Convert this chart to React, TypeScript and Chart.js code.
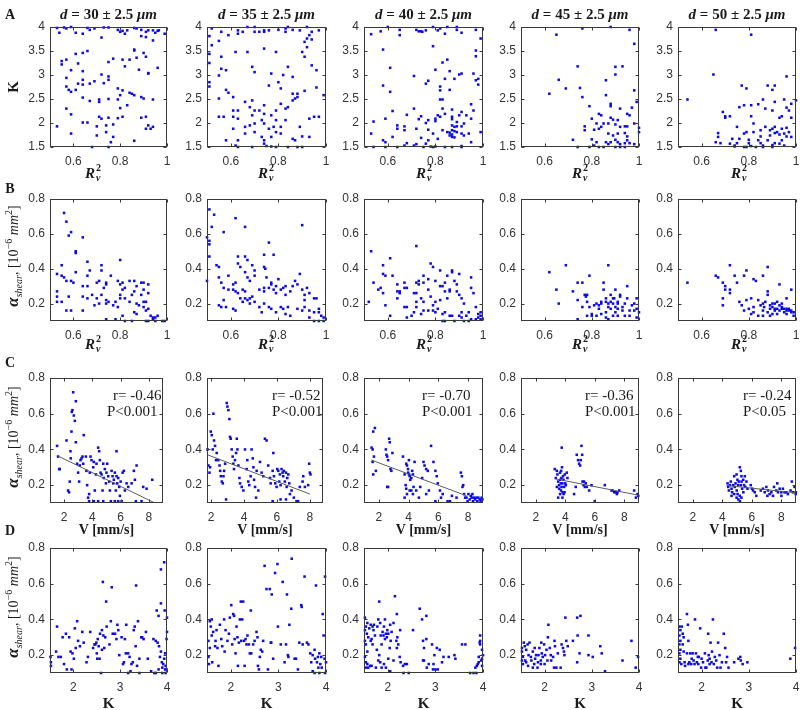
import React, { useEffect, useRef } from "react";
import { Chart, registerables } from "chart.js";
Chart.register(...registerables);

// ---------- data ----------
const a1 = [[0.53,3.98],[0.54,3.88],[0.56,3.99],[0.57,3.97],[0.59,4.0],[0.61,3.88],[0.64,3.86],[0.66,3.98],[0.67,3.94],[0.69,3.97],[0.73,3.99],[0.75,3.99],[0.79,3.94],[0.80,3.90],[0.81,3.92],[0.82,3.86],[0.83,3.93],[0.86,3.98],[0.87,3.97],[0.89,3.94],[0.91,3.90],[0.92,3.93],[0.94,3.93],[0.95,3.88],[0.96,3.92],[0.965,3.93],[0.99,3.86],[0.94,3.72],[0.91,3.79],[0.89,3.81],[0.72,3.78],[0.55,3.29],[0.55,3.22],[0.57,3.32],[0.61,3.44],[0.64,3.46],[0.66,3.50],[0.62,3.24],[0.75,3.27],[0.77,3.34],[0.81,3.32],[0.82,3.18],[0.84,3.32],[0.86,3.53],[0.86,3.51],[0.87,3.36],[0.88,3.11],[0.90,3.46],[0.91,3.38],[0.92,3.04],[0.92,3.03],[0.96,3.15],[0.64,3.08],[0.64,2.90],[0.59,3.10],[0.57,2.94],[0.57,2.76],[0.58,2.69],[0.59,2.65],[0.61,2.69],[0.62,2.82],[0.64,2.80],[0.67,2.82],[0.69,2.87],[0.73,2.83],[0.72,3.01],[0.75,2.97],[0.75,2.90],[0.79,2.72],[0.81,2.68],[0.80,2.58],[0.84,2.63],[0.85,2.61],[0.86,2.58],[0.79,2.49],[0.75,2.50],[0.71,2.49],[0.71,2.44],[0.64,2.53],[0.67,2.46],[0.80,2.31],[0.83,2.37],[0.89,2.54],[0.90,2.51],[0.94,2.49],[0.57,2.30],[0.59,2.18],[0.64,2.01],[0.66,2.01],[0.71,2.13],[0.72,2.09],[0.75,2.11],[0.79,2.10],[0.81,2.13],[0.89,2.11],[0.91,2.13],[0.92,1.95],[0.94,1.92],[0.93,1.88],[0.91,1.88],[0.77,1.97],[0.74,1.95],[0.70,1.93],[0.70,1.74],[0.74,1.81],[0.77,1.71],[0.76,1.60],[0.86,1.63],[0.53,1.93],[0.59,1.78],[0.68,1.50],[0.75,1.50]];
const a2 = [[0.51,3.81],[0.52,3.62],[0.51,3.44],[0.51,3.25],[0.55,3.71],[0.56,3.38],[0.56,3.13],[0.58,3.10],[0.55,2.99],[0.51,2.85],[0.51,2.76],[0.55,2.51],[0.59,2.63],[0.58,2.69],[0.52,3.97],[0.56,3.90],[0.59,3.83],[0.63,3.86],[0.63,3.93],[0.65,3.90],[0.67,4.0],[0.70,4.0],[0.70,3.90],[0.72,3.90],[0.74,3.93],[0.74,3.90],[0.76,3.93],[0.80,3.94],[0.83,3.97],[0.83,3.90],[0.84,4.0],[0.86,3.94],[0.89,3.93],[0.92,4.0],[0.93,3.83],[0.92,3.76],[0.91,3.69],[0.94,3.90],[0.97,3.93],[0.94,3.74],[0.62,3.48],[0.67,3.48],[0.69,3.17],[0.70,3.06],[0.74,3.55],[0.79,3.48],[0.84,3.17],[0.86,2.96],[0.90,3.48],[0.91,3.38],[0.94,3.20],[0.96,3.10],[0.92,3.58],[0.76,2.78],[0.80,2.85],[0.81,2.72],[0.77,3.03],[0.82,3.0],[0.86,2.61],[0.88,2.61],[0.91,2.67],[0.88,2.54],[0.96,2.74],[0.99,2.58],[0.61,2.54],[0.63,2.26],[0.66,2.44],[0.69,2.47],[0.68,2.33],[0.70,2.26],[0.72,2.26],[0.74,2.19],[0.74,2.37],[0.77,2.16],[0.79,2.26],[0.81,2.40],[0.83,2.30],[0.84,2.33],[0.86,2.47],[0.87,2.51],[0.55,2.13],[0.57,2.13],[0.61,2.26],[0.61,2.13],[0.63,2.09],[0.66,1.92],[0.68,1.95],[0.69,2.16],[0.70,1.99],[0.73,2.06],[0.74,1.99],[0.76,1.88],[0.78,1.92],[0.79,2.06],[0.81,1.92],[0.83,2.06],[0.89,1.92],[0.93,2.09],[0.95,2.13],[0.97,2.13],[0.61,1.88],[0.66,1.78],[0.70,1.81],[0.73,1.71],[0.74,1.64],[0.77,1.71],[0.79,1.81],[0.81,1.78],[0.86,1.67],[0.87,1.64],[0.90,1.72],[0.93,1.71],[0.63,1.64],[0.58,1.64],[0.62,1.53],[0.63,1.50],[0.69,1.50],[0.74,1.57],[0.75,1.52],[0.77,1.51],[0.79,1.50],[0.84,1.50],[0.88,1.50],[0.90,1.50]];
const a3 = [[0.53,3.85],[0.57,3.91],[0.60,4.0],[0.65,3.94],[0.65,3.83],[0.72,3.94],[0.73,3.91],[0.74,3.91],[0.745,3.90],[0.76,3.93],[0.79,4.0],[0.81,3.93],[0.82,3.97],[0.84,3.86],[0.85,4.0],[0.89,4.0],[0.89,3.94],[0.91,3.88],[0.97,3.94],[0.99,3.76],[0.58,3.53],[0.79,3.60],[0.97,3.51],[0.97,3.39],[0.83,3.26],[0.85,3.32],[0.61,3.15],[0.80,3.11],[0.86,3.08],[0.90,3.01],[0.91,3.03],[0.96,3.03],[0.71,2.98],[0.76,2.82],[0.77,2.88],[0.58,2.78],[0.84,2.92],[0.88,2.92],[0.97,2.89],[0.98,2.92],[0.98,2.80],[0.82,2.76],[0.82,2.68],[0.86,2.69],[0.61,2.65],[0.82,2.49],[0.83,2.49],[0.62,2.25],[0.71,2.30],[0.83,2.30],[0.87,2.28],[0.91,2.23],[0.95,2.39],[0.96,2.26],[0.68,2.17],[0.74,2.14],[0.77,2.06],[0.81,2.16],[0.82,2.13],[0.80,2.09],[0.84,2.19],[0.87,2.13],[0.90,2.16],[0.93,2.16],[0.95,2.09],[0.54,2.03],[0.59,2.09],[0.64,1.95],[0.67,1.93],[0.73,2.08],[0.76,2.0],[0.80,2.04],[0.87,2.08],[0.89,2.02],[0.92,1.99],[0.53,1.78],[0.64,1.88],[0.67,1.85],[0.72,1.88],[0.77,1.86],[0.79,1.78],[0.83,1.85],[0.85,1.81],[0.86,1.74],[0.87,1.85],[0.88,1.92],[0.89,1.93],[0.89,1.81],[0.91,1.93],[0.91,1.78],[0.92,1.74],[0.94,1.78],[0.99,1.81],[0.62,1.71],[0.74,1.69],[0.77,1.64],[0.58,1.64],[0.59,1.60],[0.95,1.60],[0.81,1.67],[0.87,1.71],[0.68,1.58],[0.72,1.56],[0.76,1.57],[0.54,1.50],[0.59,1.50],[0.64,1.50],[0.67,1.53],[0.71,1.53],[0.75,1.50],[0.79,1.50],[0.80,1.51],[0.84,1.50],[0.87,1.50],[0.91,1.50],[0.91,1.52],[0.78,1.51],[0.86,1.80],[0.87,1.76],[0.88,1.83],[0.88,1.70],[0.87,1.95]];
const a4 = [[0.65,3.84],[0.76,3.97],[0.88,4.0],[0.96,3.94],[0.98,3.65],[0.74,3.18],[0.66,2.90],[0.62,2.61],[0.69,2.72],[0.75,2.73],[0.76,2.54],[0.79,2.35],[0.86,2.89],[0.90,3.17],[0.90,3.01],[0.93,3.18],[0.86,2.58],[0.98,2.68],[0.97,2.32],[0.99,2.44],[0.88,2.40],[0.88,2.35],[0.92,2.30],[0.95,2.19],[0.96,2.16],[0.80,2.09],[0.82,1.99],[0.83,2.19],[0.84,2.16],[0.85,1.99],[0.87,1.99],[0.88,2.11],[0.89,2.07],[0.90,1.97],[0.91,2.06],[0.92,1.92],[0.94,1.93],[0.95,1.93],[0.98,1.99],[1.0,1.90],[0.77,1.93],[0.77,1.85],[0.81,1.86],[0.83,1.88],[0.84,1.92],[0.87,1.78],[0.89,1.74],[0.91,1.78],[0.94,1.79],[0.95,1.72],[1.0,1.81],[0.72,1.65],[0.80,1.66],[0.81,1.53],[0.82,1.60],[0.86,1.60],[0.87,1.56],[0.88,1.60],[0.90,1.65],[0.91,1.60],[0.92,1.56],[0.94,1.58],[0.95,1.64],[0.96,1.58],[0.98,1.56],[0.79,1.50],[0.74,1.50],[0.83,1.50],[0.85,1.50],[0.90,1.50],[0.92,1.50],[0.94,1.50]];
const a5 = [[0.54,2.49],[0.66,3.94],[0.81,3.84],[0.65,3.01],[0.69,2.23],[0.70,2.14],[0.70,2.11],[0.72,2.14],[0.67,1.79],[0.67,1.71],[0.66,1.60],[0.68,1.58],[0.73,1.67],[0.72,1.57],[0.74,1.53],[0.75,1.92],[0.77,2.78],[0.79,2.72],[0.76,2.33],[0.78,2.37],[0.81,2.14],[0.81,2.37],[0.82,1.99],[0.84,2.39],[0.86,2.49],[0.88,2.78],[0.90,2.69],[0.90,2.26],[0.91,2.78],[0.93,2.11],[0.94,2.14],[0.95,2.49],[0.96,2.32],[0.97,2.26],[0.98,2.11],[0.98,2.40],[0.96,2.97],[1.0,2.47],[0.91,2.44],[0.87,2.30],[0.87,1.92],[0.89,1.85],[0.89,1.74],[0.90,1.88],[0.91,1.79],[0.91,1.92],[0.92,1.81],[0.93,1.76],[0.94,1.88],[0.95,1.78],[0.96,1.90],[0.96,1.72],[0.97,1.81],[0.98,1.71],[0.85,1.85],[0.85,1.72],[0.84,1.64],[0.82,1.81],[0.79,1.81],[0.80,1.65],[0.80,1.58],[0.78,1.50],[0.79,1.50],[0.83,1.50],[0.86,1.50],[0.88,1.64],[0.90,1.50],[0.91,1.58],[0.93,1.57],[0.94,1.64],[0.95,1.53],[0.81,1.52],[0.85,1.58],[0.86,1.53],[0.90,1.54],[0.78,1.78],[0.76,1.67],[0.75,1.58],[0.74,1.51]];

const b1 = [[0.56,0.72],[0.57,0.67],[0.58,0.59],[0.59,0.61],[0.64,0.58],[0.61,0.50],[0.61,0.49],[0.66,0.44],[0.72,0.42],[0.72,0.39],[0.67,0.39],[0.80,0.45],[0.55,0.42],[0.53,0.37],[0.55,0.36],[0.56,0.35],[0.57,0.33],[0.59,0.33],[0.60,0.32],[0.61,0.38],[0.64,0.30],[0.66,0.36],[0.66,0.30],[0.70,0.32],[0.71,0.33],[0.73,0.29],[0.74,0.31],[0.74,0.32],[0.76,0.36],[0.79,0.33],[0.80,0.31],[0.81,0.32],[0.84,0.33],[0.86,0.33],[0.87,0.30],[0.89,0.32],[0.90,0.32],[0.92,0.31],[0.53,0.27],[0.53,0.24],[0.53,0.21],[0.55,0.21],[0.58,0.24],[0.59,0.16],[0.57,0.16],[0.64,0.24],[0.64,0.16],[0.66,0.23],[0.68,0.25],[0.70,0.23],[0.69,0.19],[0.71,0.20],[0.72,0.25],[0.74,0.22],[0.74,0.20],[0.75,0.21],[0.77,0.19],[0.78,0.21],[0.79,0.18],[0.80,0.25],[0.80,0.23],[0.81,0.28],[0.82,0.29],[0.82,0.23],[0.84,0.21],[0.85,0.25],[0.86,0.27],[0.87,0.20],[0.87,0.14],[0.88,0.19],[0.89,0.25],[0.90,0.21],[0.90,0.28],[0.90,0.18],[0.91,0.16],[0.91,0.21],[0.92,0.26],[0.92,0.17],[0.93,0.13],[0.94,0.11],[0.94,0.12],[0.95,0.12],[0.96,0.13],[0.74,0.11],[0.78,0.11],[0.82,0.10],[0.85,0.10],[0.91,0.10],[0.92,0.10],[0.95,0.10],[0.98,0.10],[0.99,0.10],[0.86,0.15],[0.81,0.13]];
const b2 = [[0.51,0.74],[0.53,0.71],[0.52,0.64],[0.50,0.58],[0.51,0.56],[0.51,0.54],[0.51,0.47],[0.50,0.33],[0.57,0.61],[0.62,0.69],[0.66,0.64],[0.76,0.55],[0.74,0.48],[0.78,0.48],[0.90,0.65],[0.54,0.42],[0.55,0.41],[0.55,0.35],[0.56,0.32],[0.57,0.29],[0.59,0.36],[0.61,0.31],[0.62,0.32],[0.63,0.47],[0.63,0.43],[0.64,0.41],[0.66,0.47],[0.66,0.38],[0.67,0.35],[0.68,0.33],[0.70,0.36],[0.70,0.39],[0.74,0.41],[0.745,0.40],[0.75,0.35],[0.67,0.45],[0.69,0.42],[0.72,0.28],[0.74,0.29],[0.74,0.27],[0.76,0.29],[0.77,0.31],[0.77,0.32],[0.78,0.28],[0.79,0.30],[0.79,0.26],[0.80,0.34],[0.81,0.28],[0.82,0.29],[0.83,0.25],[0.83,0.30],[0.85,0.27],[0.86,0.30],[0.87,0.33],[0.88,0.31],[0.89,0.37],[0.90,0.28],[0.91,0.25],[0.91,0.22],[0.92,0.29],[0.93,0.26],[0.95,0.23],[0.96,0.23],[0.61,0.28],[0.62,0.27],[0.63,0.26],[0.65,0.28],[0.66,0.27],[0.68,0.23],[0.69,0.24],[0.57,0.22],[0.58,0.18],[0.59,0.28],[0.61,0.17],[0.62,0.16],[0.64,0.23],[0.65,0.21],[0.66,0.23],[0.67,0.22],[0.68,0.20],[0.70,0.21],[0.72,0.18],[0.73,0.15],[0.74,0.20],[0.76,0.18],[0.77,0.17],[0.79,0.15],[0.81,0.18],[0.82,0.17],[0.83,0.14],[0.84,0.18],[0.85,0.13],[0.88,0.17],[0.90,0.16],[0.91,0.18],[0.93,0.16],[0.95,0.15],[0.97,0.17],[0.97,0.15],[0.98,0.13],[0.93,0.12],[0.95,0.10],[0.97,0.10],[0.99,0.10],[0.99,0.12],[0.56,0.18],[0.55,0.19]];
const b3 = [[0.53,0.50],[0.61,0.46],[0.52,0.21],[0.54,0.32],[0.58,0.42],[0.58,0.37],[0.59,0.36],[0.62,0.36],[0.57,0.29],[0.58,0.26],[0.56,0.28],[0.59,0.19],[0.61,0.13],[0.64,0.27],[0.64,0.31],[0.65,0.27],[0.67,0.32],[0.67,0.29],[0.68,0.29],[0.64,0.23],[0.65,0.26],[0.67,0.18],[0.68,0.18],[0.68,0.12],[0.72,0.53],[0.72,0.32],[0.73,0.31],[0.71,0.26],[0.72,0.26],[0.73,0.33],[0.75,0.32],[0.75,0.36],[0.77,0.34],[0.78,0.43],[0.79,0.41],[0.80,0.33],[0.77,0.28],[0.78,0.24],[0.74,0.23],[0.75,0.21],[0.72,0.21],[0.72,0.18],[0.71,0.15],[0.70,0.13],[0.74,0.14],[0.75,0.16],[0.77,0.16],[0.79,0.19],[0.79,0.16],[0.80,0.15],[0.80,0.21],[0.82,0.39],[0.82,0.30],[0.83,0.30],[0.84,0.27],[0.84,0.32],[0.85,0.36],[0.85,0.23],[0.86,0.28],[0.86,0.27],[0.87,0.38],[0.87,0.39],[0.88,0.33],[0.89,0.31],[0.89,0.27],[0.90,0.37],[0.90,0.25],[0.91,0.23],[0.92,0.20],[0.81,0.17],[0.82,0.22],[0.83,0.14],[0.84,0.15],[0.86,0.13],[0.87,0.13],[0.90,0.13],[0.91,0.12],[0.91,0.15],[0.93,0.13],[0.94,0.15],[0.95,0.35],[0.95,0.29],[0.96,0.26],[0.97,0.18],[0.98,0.14],[0.99,0.15],[0.98,0.12],[0.99,0.11],[0.97,0.11],[0.95,0.11],[0.84,0.10],[0.88,0.10],[0.92,0.10],[0.94,0.10],[0.83,0.10],[0.99,0.13]];
const b4 = [[0.62,0.38],[0.69,0.42],[0.65,0.28],[0.66,0.20],[0.72,0.27],[0.74,0.32],[0.76,0.32],[0.79,0.36],[0.87,0.42],[0.74,0.22],[0.74,0.11],[0.76,0.18],[0.77,0.25],[0.775,0.24],[0.78,0.21],[0.78,0.25],[0.79,0.18],[0.80,0.14],[0.80,0.13],[0.81,0.19],[0.82,0.20],[0.83,0.17],[0.83,0.19],[0.84,0.21],[0.84,0.20],[0.85,0.28],[0.85,0.32],[0.86,0.21],[0.86,0.15],[0.86,0.23],[0.87,0.18],[0.87,0.20],[0.88,0.17],[0.88,0.21],[0.88,0.25],[0.89,0.23],[0.89,0.20],[0.895,0.23],[0.90,0.15],[0.90,0.18],[0.90,0.28],[0.91,0.21],[0.91,0.17],[0.91,0.20],[0.92,0.24],[0.92,0.25],[0.93,0.18],[0.93,0.16],[0.94,0.20],[0.94,0.13],[0.95,0.30],[0.95,0.23],[0.96,0.16],[0.96,0.13],[0.97,0.19],[0.98,0.16],[0.98,0.20],[0.99,0.23],[0.99,0.17],[0.99,0.12],[1.0,0.15],[0.78,0.13],[0.82,0.13],[0.84,0.14],[0.86,0.12],[0.87,0.11],[0.89,0.13],[0.91,0.13]];
const b5 = [[0.54,0.32],[0.66,0.36],[0.67,0.35],[0.72,0.42],[0.69,0.32],[0.70,0.30],[0.69,0.23],[0.70,0.28],[0.72,0.28],[0.72,0.26],[0.69,0.19],[0.74,0.36],[0.75,0.32],[0.78,0.36],[0.79,0.39],[0.82,0.34],[0.83,0.33],[0.86,0.36],[0.88,0.41],[0.88,0.27],[0.88,0.25],[0.93,0.31],[0.98,0.28],[0.76,0.21],[0.77,0.19],[0.78,0.16],[0.79,0.22],[0.80,0.17],[0.81,0.14],[0.81,0.23],[0.82,0.18],[0.82,0.15],[0.84,0.22],[0.84,0.13],[0.85,0.19],[0.86,0.20],[0.86,0.16],[0.865,0.18],[0.87,0.21],[0.88,0.15],[0.89,0.19],[0.89,0.17],[0.90,0.20],[0.90,0.14],[0.90,0.18],[0.91,0.16],[0.91,0.20],[0.91,0.17],[0.92,0.14],[0.92,0.21],[0.92,0.17],[0.93,0.19],[0.93,0.16],[0.94,0.18],[0.94,0.20],[0.94,0.17],[0.95,0.15],[0.95,0.17],[0.96,0.23],[0.96,0.16],[0.96,0.17],[0.97,0.16],[0.97,0.17],[0.98,0.15],[0.98,0.16],[0.99,0.15],[0.99,0.13],[0.96,0.14],[0.89,0.13],[0.86,0.13]];

const c1 = [[1.50,0.42],[1.57,0.36],[1.65,0.29],[1.69,0.29],[2.17,0.45],[2.28,0.17],[2.35,0.16],[2.40,0.22],[2.45,0.39],[2.47,0.35],[2.52,0.50],[2.54,0.61],[2.59,0.62],[2.64,0.72],[2.69,0.59],[2.76,0.56],[2.83,0.67],[2.83,0.44],[2.92,0.32],[2.99,0.27],[3.06,0.22],[3.11,0.31],[3.16,0.34],[3.23,0.35],[3.30,0.36],[3.35,0.32],[3.39,0.48],[3.54,0.36],[3.58,0.28],[3.63,0.20],[3.70,0.13],[3.77,0.11],[3.82,0.27],[3.87,0.36],[3.94,0.34],[4.06,0.30],[4.10,0.33],[4.25,0.26],[4.29,0.32],[4.41,0.41],[4.48,0.39],[4.53,0.34],[4.58,0.27],[4.65,0.26],[4.72,0.17],[4.77,0.32],[4.81,0.24],[4.88,0.29],[4.96,0.21],[5.00,0.27],[5.05,0.32],[5.12,0.25],[5.19,0.22],[5.24,0.17],[5.31,0.11],[5.36,0.28],[5.43,0.25],[5.48,0.21],[5.52,0.23],[5.59,0.27],[5.66,0.17],[5.71,0.25],[5.76,0.21],[5.83,0.24],[5.90,0.19],[5.95,0.14],[6.00,0.22],[6.07,0.11],[6.14,0.27],[5.71,0.39],[6.23,0.28],[6.30,0.17],[6.42,0.21],[6.54,0.19],[6.78,0.21],[6.94,0.28],[7.01,0.23],[7.08,0.11],[7.13,0.31],[7.60,0.19],[7.84,0.18],[8.24,0.23],[7.48,0.11],[3.77,0.15],[4.10,0.11],[4.17,0.17],[4.41,0.11],[4.77,0.11],[5.59,0.11],[5.83,0.11]];
const c2 = [[1.78,0.40],[1.84,0.31],[1.90,0.27],[1.94,0.30],[1.98,0.50],[2.04,0.48],[2.10,0.40],[2.14,0.60],[2.18,0.45],[2.24,0.42],[2.30,0.34],[2.34,0.38],[2.44,0.34],[2.51,0.31],[2.55,0.28],[2.59,0.25],[2.65,0.22],[2.71,0.21],[2.75,0.25],[2.79,0.28],[2.85,0.32],[2.91,0.12],[2.95,0.66],[2.99,0.64],[3.05,0.62],[3.11,0.57],[3.15,0.47],[3.19,0.46],[3.25,0.40],[3.31,0.36],[3.35,0.32],[3.39,0.29],[3.45,0.34],[3.52,0.38],[3.56,0.46],[3.60,0.40],[3.66,0.31],[3.72,0.24],[3.76,0.21],[3.86,0.19],[3.96,0.17],[4.06,0.40],[4.16,0.29],[4.20,0.34],[4.26,0.22],[4.32,0.20],[4.40,0.25],[4.46,0.40],[4.53,0.35],[4.57,0.30],[4.61,0.23],[4.67,0.19],[4.73,0.13],[4.77,0.28],[4.87,0.17],[4.97,0.33],[5.07,0.27],[5.17,0.25],[5.27,0.46],[5.37,0.45],[5.47,0.31],[5.58,0.24],[5.62,0.21],[5.74,0.28],[5.78,0.38],[5.82,0.25],[5.90,0.21],[5.98,0.19],[6.02,0.29],[6.08,0.28],[6.14,0.22],[6.18,0.26],[6.22,0.20],[6.28,0.29],[6.34,0.27],[6.38,0.25],[6.42,0.28],[6.48,0.22],[6.55,0.27],[6.59,0.19],[6.63,0.24],[6.69,0.26],[6.75,0.21],[6.79,0.15],[6.89,0.17],[7.03,0.13],[7.19,0.11],[7.29,0.11],[7.39,0.19],[7.56,0.22],[7.60,0.25],[7.70,0.19],[7.90,0.20],[7.96,0.32],[8.00,0.27],[8.04,0.26],[5.74,0.11],[6.22,0.12],[6.55,0.12]];
const c3 = [[1.51,0.41],[1.58,0.40],[1.62,0.50],[1.73,0.52],[1.58,0.33],[1.67,0.36],[1.62,0.26],[1.80,0.28],[2.47,0.40],[2.51,0.37],[2.56,0.36],[2.62,0.34],[2.69,0.46],[2.73,0.44],[2.78,0.29],[2.84,0.28],[2.91,0.38],[2.56,0.19],[2.62,0.19],[3.62,0.36],[3.73,0.26],[3.80,0.20],[3.84,0.32],[3.89,0.31],[3.96,0.29],[3.97,0.27],[4.02,0.26],[4.07,0.25],[4.11,0.23],[4.18,0.24],[4.24,0.28],[4.29,0.26],[3.84,0.18],[3.73,0.13],[3.89,0.15],[4.07,0.17],[4.18,0.17],[4.29,0.15],[4.33,0.19],[4.40,0.33],[4.02,0.34],[4.51,0.17],[4.69,0.13],[4.78,0.19],[4.91,0.24],[5.00,0.33],[5.07,0.31],[5.18,0.29],[5.29,0.28],[5.18,0.15],[5.36,0.17],[5.51,0.42],[5.67,0.33],[5.80,0.28],[5.89,0.25],[5.96,0.21],[6.11,0.17],[6.18,0.13],[6.29,0.15],[5.80,0.11],[6.62,0.11],[6.78,0.11],[6.91,0.14],[7.22,0.13],[7.51,0.27],[7.58,0.25],[7.62,0.19],[7.67,0.20],[7.73,0.15],[7.80,0.13],[7.89,0.13],[8.02,0.15],[8.11,0.12],[8.18,0.14],[8.24,0.13],[8.33,0.11],[8.40,0.13],[8.47,0.12],[8.56,0.13],[8.62,0.11],[8.69,0.13],[8.78,0.12],[8.84,0.11],[8.91,0.13],[8.96,0.12],[8.29,0.15],[7.96,0.11]];
const c4 = [[3.76,0.41],[3.29,0.29],[3.36,0.24],[3.43,0.28],[3.47,0.26],[3.52,0.22],[3.58,0.20],[3.59,0.18],[3.65,0.27],[3.66,0.23],[3.70,0.21],[3.71,0.17],[3.74,0.24],[3.75,0.19],[3.81,0.21],[3.82,0.16],[3.88,0.23],[3.89,0.15],[3.97,0.26],[4.04,0.20],[4.10,0.27],[4.15,0.24],[3.52,0.13],[3.65,0.15],[3.81,0.13],[3.43,0.19],[4.60,0.15],[4.71,0.19],[4.78,0.37],[4.87,0.34],[4.94,0.32],[5.01,0.31],[5.05,0.34],[5.10,0.42],[5.17,0.22],[5.24,0.20],[5.28,0.22],[5.33,0.19],[5.39,0.21],[5.46,0.19],[5.62,0.17],[5.78,0.20],[6.00,0.11],[6.68,0.20],[7.14,0.17],[7.20,0.17],[7.32,0.16],[7.43,0.16],[7.50,0.15],[7.54,0.16],[7.66,0.17],[8.67,0.17],[8.79,0.13],[8.90,0.15],[8.95,0.14],[3.78,0.30],[3.85,0.25],[3.92,0.19],[3.72,0.28],[4.0,0.21],[3.95,0.16],[5.15,0.37]];
const c5 = [[5.19,0.30],[5.26,0.28],[5.30,0.25],[4.36,0.21],[4.40,0.19],[4.45,0.17],[4.52,0.20],[4.58,0.22],[4.63,0.18],[4.67,0.16],[4.74,0.20],[4.81,0.25],[4.85,0.19],[4.90,0.21],[4.97,0.26],[4.98,0.17],[5.03,0.23],[5.04,0.15],[5.08,0.20],[5.09,0.12],[5.12,0.22],[5.19,0.14],[5.20,0.11],[5.26,0.20],[5.31,0.22],[5.35,0.18],[5.42,0.23],[5.43,0.16],[5.48,0.20],[5.53,0.25],[5.57,0.19],[5.64,0.22],[5.71,0.18],[5.30,0.13],[4.97,0.13],[4.81,0.15],[4.63,0.14],[5.93,0.20],[6.02,0.18],[6.09,0.17],[6.20,0.16],[6.31,0.14],[6.61,0.17],[6.76,0.18],[6.88,0.16],[6.99,0.19],[7.10,0.17],[7.21,0.15],[7.33,0.16],[7.51,0.19],[7.66,0.17],[7.73,0.21],[7.78,0.16],[7.89,0.18],[8.00,0.16],[8.11,0.18],[8.22,0.16],[8.34,0.16],[8.45,0.15],[8.63,0.17],[8.72,0.22],[8.79,0.16],[8.90,0.19],[8.98,0.15],[8.99,0.16],[8.01,0.14],[7.44,0.14],[7.06,0.14]];

const d1 = [[1.51,0.19],[1.52,0.16],[1.52,0.14],[1.63,0.22],[1.65,0.36],[1.68,0.19],[1.73,0.19],[1.77,0.30],[1.80,0.15],[1.84,0.32],[1.86,0.12],[1.91,0.30],[1.94,0.22],[1.96,0.12],[1.98,0.21],[2.01,0.18],[2.03,0.35],[2.05,0.24],[2.08,0.39],[2.10,0.28],[2.14,0.25],[2.19,0.33],[2.22,0.27],[2.28,0.16],[2.31,0.19],[2.36,0.33],[2.42,0.24],[2.45,0.26],[2.47,0.26],[2.49,0.27],[2.52,0.29],[2.50,0.21],[2.51,0.18],[2.54,0.25],[2.56,0.18],[2.57,0.32],[2.61,0.34],[2.63,0.61],[2.61,0.23],[2.64,0.31],[2.66,0.24],[2.68,0.30],[2.70,0.50],[2.71,0.36],[2.77,0.26],[2.80,0.39],[2.82,0.58],[2.84,0.32],[2.89,0.32],[2.92,0.29],[2.94,0.37],[2.96,0.34],[2.98,0.20],[3.03,0.30],[3.06,0.15],[3.08,0.16],[3.10,0.29],[3.12,0.21],[3.13,0.37],[3.17,0.21],[3.20,0.19],[3.22,0.11],[3.24,0.15],[3.27,0.16],[3.29,0.34],[3.31,0.36],[3.33,0.25],[3.34,0.59],[3.36,0.14],[3.38,0.39],[3.41,0.18],[3.45,0.30],[3.47,0.30],[3.50,0.29],[3.55,0.33],[3.59,0.18],[3.66,0.11],[3.71,0.29],[3.73,0.10],[3.76,0.28],[3.78,0.45],[3.80,0.27],[3.82,0.42],[3.83,0.25],[3.85,0.19],[3.87,0.68],[3.87,0.49],[3.87,0.22],[3.89,0.16],[3.90,0.13],[3.92,0.15],[3.94,0.72],[3.94,0.18],[3.95,0.45],[3.96,0.12],[3.97,0.14],[3.99,0.29],[4.0,0.33],[3.99,0.12],[3.97,0.10],[3.90,0.10],[3.76,0.10],[3.82,0.12],[4.0,0.41],[3.96,0.21],[2.59,0.10],[3.17,0.10],[3.41,0.10]];
const d2 = [[1.53,0.28],[1.53,0.19],[1.54,0.15],[1.56,0.24],[1.56,0.39],[1.58,0.36],[1.60,0.40],[1.60,0.31],[1.61,0.16],[1.63,0.33],[1.67,0.25],[1.68,0.28],[1.70,0.34],[1.72,0.24],[1.74,0.14],[1.77,0.37],[1.80,0.29],[1.82,0.25],[1.86,0.40],[1.87,0.22],[1.89,0.34],[1.93,0.28],[1.96,0.32],[1.98,0.41],[2.01,0.48],[2.03,0.26],[2.05,0.43],[2.07,0.42],[2.08,0.29],[2.10,0.21],[2.12,0.36],[2.14,0.30],[2.15,0.14],[2.17,0.27],[2.19,0.40],[2.21,0.50],[2.22,0.28],[2.24,0.40],[2.26,0.50],[2.28,0.28],[2.29,0.14],[2.31,0.29],[2.33,0.26],[2.35,0.31],[2.38,0.26],[2.40,0.21],[2.42,0.45],[2.43,0.21],[2.47,0.26],[2.50,0.28],[2.54,0.33],[2.56,0.30],[2.57,0.14],[2.59,0.12],[2.61,0.19],[2.63,0.23],[2.66,0.22],[2.68,0.28],[2.71,0.70],[2.75,0.57],[2.78,0.12],[2.82,0.57],[2.84,0.27],[2.85,0.27],[2.86,0.54],[2.89,0.18],[2.93,0.66],[2.98,0.71],[2.99,0.36],[3.05,0.26],[3.09,0.61],[3.13,0.16],[3.16,0.26],[3.18,0.54],[3.20,0.20],[3.21,0.19],[3.23,0.37],[3.27,0.46],[3.28,0.74],[3.34,0.18],[3.37,0.18],[3.41,0.12],[3.44,0.27],[3.48,0.48],[3.49,0.47],[3.51,0.26],[3.55,0.64],[3.60,0.27],[3.63,0.26],[3.67,0.21],[3.69,0.16],[3.72,0.11],[3.72,0.20],[3.76,0.23],[3.77,0.18],[3.79,0.59],[3.81,0.16],[3.83,0.19],[3.84,0.13],[3.86,0.21],[3.88,0.15],[3.90,0.19],[3.91,0.13],[3.93,0.43],[3.95,0.31],[3.97,0.18],[3.98,0.64],[4.0,0.16],[3.98,0.10],[3.86,0.10],[3.76,0.10]];
const d3 = [[1.52,0.41],[1.54,0.36],[1.52,0.34],[1.56,0.32],[1.52,0.28],[1.54,0.26],[1.57,0.22],[1.52,0.19],[1.54,0.16],[1.57,0.15],[1.54,0.13],[1.59,0.13],[1.63,0.14],[1.66,0.14],[1.57,0.38],[1.61,0.35],[1.64,0.37],[1.66,0.29],[1.68,0.36],[1.70,0.34],[1.59,0.30],[1.64,0.28],[1.68,0.26],[1.71,0.37],[1.73,0.31],[1.75,0.13],[1.78,0.36],[1.80,0.40],[1.82,0.50],[1.84,0.38],[1.85,0.31],[1.87,0.26],[1.89,0.33],[1.91,0.31],[1.92,0.36],[1.94,0.29],[1.94,0.40],[1.96,0.32],[1.98,0.30],[1.99,0.34],[2.01,0.32],[2.04,0.24],[2.05,0.37],[2.06,0.28],[2.08,0.33],[1.77,0.23],[1.80,0.17],[1.82,0.20],[1.84,0.16],[1.87,0.13],[1.92,0.15],[1.96,0.13],[2.01,0.18],[2.05,0.11],[2.12,0.38],[2.15,0.53],[2.18,0.28],[2.19,0.24],[2.20,0.30],[2.19,0.43],[2.22,0.26],[2.25,0.19],[2.26,0.34],[2.12,0.17],[2.27,0.16],[2.32,0.14],[2.33,0.10],[2.36,0.15],[2.40,0.15],[2.44,0.10],[2.53,0.34],[2.67,0.46],[2.72,0.40],[2.81,0.42],[2.74,0.28],[2.76,0.24],[2.74,0.17],[2.76,0.17],[2.81,0.29],[2.82,0.13],[2.86,0.15],[2.93,0.26],[2.95,0.12],[2.96,0.15],[2.98,0.20],[3.00,0.12],[3.03,0.24],[3.05,0.12],[3.09,0.23],[3.14,0.16],[3.17,0.19],[3.28,0.19],[3.40,0.20],[3.42,0.18],[3.56,0.26],[3.63,0.26],[3.73,0.10],[3.84,0.13],[3.86,0.10],[3.87,0.14],[3.89,0.15],[3.91,0.19],[3.93,0.27],[3.94,0.28],[3.94,0.31],[3.96,0.17],[3.98,0.14],[3.98,0.18],[4.0,0.20],[3.98,0.23],[3.94,0.26],[3.91,0.16],[3.80,0.10]];
const d4 = [[1.52,0.24],[1.52,0.22],[1.54,0.19],[1.52,0.17],[1.54,0.15],[1.56,0.27],[1.58,0.25],[1.59,0.17],[1.61,0.16],[1.61,0.23],[1.64,0.26],[1.65,0.14],[1.66,0.20],[1.68,0.27],[1.71,0.19],[1.72,0.17],[1.75,0.22],[1.78,0.15],[1.79,0.24],[1.80,0.18],[1.82,0.20],[1.85,0.13],[1.86,0.16],[1.87,0.20],[1.89,0.24],[1.92,0.17],[1.93,0.27],[1.94,0.21],[1.96,0.19],[1.99,0.26],[2.0,0.15],[2.01,0.20],[2.04,0.23],[2.06,0.17],[2.07,0.30],[2.08,0.37],[2.11,0.24],[2.13,0.20],[2.14,0.17],[2.18,0.19],[2.20,0.13],[2.21,0.28],[2.22,0.25],[2.25,0.13],[2.28,0.21],[2.34,0.13],[2.36,0.26],[2.39,0.24],[2.41,0.22],[2.42,0.20],[2.44,0.41],[2.46,0.28],[2.49,0.25],[2.60,0.28],[2.69,0.16],[2.69,0.41],[2.70,0.31],[2.74,0.21],[2.76,0.42],[2.93,0.31],[2.93,0.20],[3.02,0.19],[3.18,0.25],[3.21,0.21],[3.28,0.11],[3.65,0.17],[3.84,0.28],[3.93,0.13],[3.98,0.19],[1.92,0.15],[1.75,0.13]];
const d5 = [[1.53,0.36],[1.55,0.34],[1.53,0.31],[1.55,0.28],[1.53,0.26],[1.55,0.23],[1.53,0.21],[1.55,0.18],[1.53,0.16],[1.57,0.15],[1.58,0.36],[1.60,0.32],[1.62,0.30],[1.60,0.26],[1.62,0.22],[1.64,0.16],[1.65,0.14],[1.69,0.21],[1.69,0.43],[1.71,0.37],[1.72,0.28],[1.74,0.16],[1.76,0.21],[1.78,0.15],[1.79,0.18],[1.81,0.21],[1.83,0.17],[1.85,0.15],[1.86,0.40],[1.88,0.21],[1.90,0.16],[1.92,0.19],[1.93,0.15],[1.94,0.19],[1.97,0.35],[1.99,0.13],[2.0,0.18],[2.03,0.16],[2.07,0.21],[2.08,0.13],[2.10,0.13],[2.13,0.17],[2.14,0.32],[2.15,0.20],[2.17,0.18],[2.19,0.27],[2.21,0.16],[2.22,0.22],[2.24,0.40],[2.26,0.15],[2.28,0.19],[2.31,0.17],[2.33,0.13],[2.35,0.27],[2.38,0.20],[2.40,0.13],[2.43,0.16],[2.47,0.32],[2.50,0.24],[2.52,0.16],[2.54,0.19],[2.57,0.13],[2.69,0.16],[2.78,0.18],[2.82,0.19],[2.83,0.17],[2.87,0.15],[2.97,0.16],[3.88,0.18],[3.98,0.24],[2.17,0.15],[1.72,0.15]];

// regression lines of row C: [xStart, yStart, xEnd, yEnd]
const cFits = [[1.57,0.363,8.38,0.102],[1.78,0.37,8.0,0.15],[1.51,0.34,7.9,0.14],[3.29,0.236,9.0,0.143],[4.29,0.198,9.0,0.157]];
const cR = ["r= -0.46", "r= -0.52", "r= -0.70", "r= -0.36", "r= -0.24"];
const cP = ["P<0.001", "P<0.001", "P<0.001", "P<0.001", "P<0.05"];
const diameters = ["30", "35", "40", "45", "50"];

const xTicksR = [0.6, 0.8, 1];
const yTicksK = [1.5, 2, 2.5, 3, 3.5, 4];
const yTicksAlpha = [0.2, 0.4, 0.6, 0.8];
const xTicksV = [2, 4, 6, 8];
const xTicksK = [2, 3, 4];

// ---------- layout ----------
const COL_LEFT = [50, 207, 364, 521, 678];
const COL_W = [117, 119, 119, 118, 118];
const ROW_TOP = [27, 199, 378, 548];
const ROW_H = [120, 122, 125, 125];
const C_W = [113, 116, 119, 118, 118];
const C_XRANGE = [[1, 9], [1.75, 8.8], [1, 9], [1, 9], [1, 9]];
const R_LABEL_X = [93, 266, 424, 580, 739];

const PADL = 40, PADR = 12, PADT = 10, PADB = 24;
const BLUE = "rgb(12,12,225)";
const AXIS = "#3a3a3a";
const SERIF = "'Liberation Serif', 'Times New Roman', serif";
const SANS = "'Liberation Sans', Arial, Helvetica, sans-serif";

const framePlugin = {
  id: "frame",
  afterDatasetsDraw(chart: any) {
    const { ctx, chartArea: a, scales } = chart;
    const xs = scales.x, ys = scales.y;
    const L = Math.round(a.left) + 0.5, R = Math.round(a.right) - 0.5;
    const T = Math.round(a.top) + 0.5, B = Math.round(a.bottom) - 0.5;
    ctx.save();
    ctx.strokeStyle = AXIS;
    ctx.lineWidth = 1;
    ctx.strokeRect(L, T, R - L, B - T);
    ctx.beginPath();
    xs.ticks.forEach((t: any) => {
      const p = Math.round(xs.getPixelForValue(t.value)) + 0.5;
      ctx.moveTo(p, B); ctx.lineTo(p, B - 3);
      ctx.moveTo(p, T); ctx.lineTo(p, T + 3);
    });
    ys.ticks.forEach((t: any) => {
      const p = Math.round(ys.getPixelForValue(t.value)) + 0.5;
      ctx.moveTo(L, p); ctx.lineTo(L + 3, p);
      ctx.moveTo(R, p); ctx.lineTo(R - 3, p);
    });
    ctx.stroke();
    ctx.restore();
  },
};

type PanelProps = {
  pts: number[][];
  left: number; top: number; w: number; h: number;
  xr: number[]; yr: number[];
  xt: number[]; yt: number[];
  fit?: number[];
};

function fmt(v: any) {
  return String(+Number(v).toFixed(2));
}

function Panel({ pts, left, top, w, h, xr, yr, xt, yt, fit }: PanelProps) {
  const ref = useRef<HTMLCanvasElement>(null);
  useEffect(() => {
    const datasets: any[] = [
      {
        data: pts.map(([x, y]) => ({ x, y })),
        pointStyle: "rect",
        pointRadius: 1.8,
        pointHoverRadius: 1.8,
        backgroundColor: BLUE,
        borderWidth: 0,
        clip: 3,
        order: 1,
      },
    ];
    if (fit) {
      datasets.push({
        data: [{ x: fit[0], y: fit[1] }, { x: fit[2], y: fit[3] }],
        showLine: true,
        pointRadius: 0,
        borderColor: "#5c5c5c",
        borderWidth: 1,
        order: 0,
      });
    }
    const tickFont = { family: SANS, size: 12 };
    const chart = new Chart(ref.current as HTMLCanvasElement, {
      type: "scatter",
      data: { datasets },
      options: {
        animation: false,
        responsive: false,
        maintainAspectRatio: false,
        events: [],
        layout: { padding: { top: PADT, right: PADR, left: 0, bottom: 0 } },
        plugins: { legend: { display: false }, tooltip: { enabled: false } },
        scales: {
          x: {
            type: "linear",
            min: xr[0],
            max: xr[1],
            grid: { display: false, drawTicks: false },
            border: { display: false },
            ticks: { font: tickFont, color: "#333", padding: 7, maxRotation: 0, autoSkip: false, callback: fmt },
            afterBuildTicks: (s: any) => { s.ticks = xt.map((v) => ({ value: v })); },
            afterFit: (s: any) => { s.height = PADB; s.paddingLeft = 0; s.paddingRight = 0; },
          },
          y: {
            type: "linear",
            min: yr[0],
            max: yr[1],
            grid: { display: false, drawTicks: false },
            border: { display: false },
            ticks: { font: tickFont, color: "#333", padding: 5, autoSkip: false, callback: fmt },
            afterBuildTicks: (s: any) => { s.ticks = yt.map((v) => ({ value: v })); },
            afterFit: (s: any) => { s.width = PADL; s.paddingTop = 0; s.paddingBottom = 0; },
          },
        },
      } as any,
      plugins: [framePlugin],
    });
    return () => chart.destroy();
  }, []);
  const cw = w + PADL + PADR, ch = h + PADT + PADB;
  return (
    <canvas
      ref={ref}
      width={cw}
      height={ch}
      style={{ position: "absolute", left: left - PADL, top: top - PADT, width: cw, height: ch }}
    />
  );
}

function Txt({ x, y, children, style, rotate }: any) {
  return (
    <div
      style={{
        position: "absolute",
        left: x,
        top: y,
        transform: `translate(-50%, -50%)${rotate ? " rotate(-90deg)" : ""}`,
        whiteSpace: "nowrap",
        lineHeight: 1,
        color: "#1a1a1a",
        fontFamily: SERIF,
        ...style,
      }}
    >
      {children}
    </div>
  );
}

function RLabel() {
  return (
    <span style={{ fontWeight: "bold", fontStyle: "italic", fontSize: 15, display: "inline-flex", alignItems: "center" }}>
      <span>R</span>
      <span style={{ display: "inline-flex", flexDirection: "column", fontSize: 10, lineHeight: 1, marginLeft: 1 }}>
        <span style={{ fontStyle: "normal" }}>2</span>
        <span>v</span>
      </span>
    </span>
  );
}

function AlphaLabel() {
  return (
    <span style={{ fontSize: 14 }}>
      <span style={{ fontStyle: "italic", fontWeight: "bold", fontSize: 17 }}>α</span>
      <sub style={{ fontStyle: "italic", fontSize: 10 }}>shear</sub>
      <span>, [10</span>
      <sup style={{ fontSize: 10 }}>−6</sup>
      <span style={{ fontStyle: "italic" }}> mm</span>
      <sup style={{ fontSize: 10 }}>2</sup>
      <span>]</span>
    </span>
  );
}

export default function App() {
  const rowsData = [
    [a1, a2, a3, a4, a5],
    [b1, b2, b3, b4, b5],
    [c1, c2, c3, c4, c5],
    [d1, d2, d3, d4, d5],
  ];
  const panels: any[] = [];
  for (let r = 0; r < 4; r++) {
    for (let c = 0; c < 5; c++) {
      const w = r === 2 ? C_W[c] : COL_W[c];
      const xr = r < 2 ? [0.5, 1] : r === 2 ? C_XRANGE[c] : [1.5, 4];
      const yr = r === 0 ? [1.5, 4] : [0.1, 0.8];
      const xt = r < 2 ? xTicksR : r === 2 ? xTicksV : xTicksK;
      const yt = r === 0 ? yTicksK : yTicksAlpha;
      panels.push(
        <Panel
          key={`${r}-${c}`}
          pts={rowsData[r][c]}
          left={COL_LEFT[c]}
          top={ROW_TOP[r]}
          w={w}
          h={ROW_H[r]}
          xr={xr}
          yr={yr}
          xt={xt}
          yt={yt}
          fit={r === 2 ? cFits[c] : undefined}
        />
      );
    }
  }
  const texts: any[] = [];
  const rOffsets = [57, 65, 58, 64, 65];
  const rLabelY = [173, 344];
  for (let c = 0; c < 5; c++) {
    const cx = COL_LEFT[c] + COL_W[c] / 2;
    texts.push(
      <Txt key={`t${c}`} x={cx} y={14} style={{ fontSize: 15, fontWeight: "bold" }}>
        <i>d</i> = {diameters[c]} ± 2.5 <i>μm</i>
      </Txt>
    );
    for (let r = 0; r < 2; r++) {
      texts.push(
        <Txt key={`rl${r}${c}`} x={R_LABEL_X[c]} y={rLabelY[r]}>
          <RLabel />
        </Txt>
      );
    }
    const ccx = COL_LEFT[c] + C_W[c] / 2;
    texts.push(
      <Txt key={`v${c}`} x={ccx} y={530} style={{ fontSize: 14, fontWeight: "bold" }}>
        V [mm/s]
      </Txt>
    );
    texts.push(
      <Txt key={`k${c}`} x={cx} y={703} style={{ fontSize: 15, fontWeight: "bold" }}>
        K
      </Txt>
    );
    texts.push(
      <div
        key={`an${c}`}
        style={{
          position: "absolute",
          left: COL_LEFT[c] + rOffsets[c],
          top: 387,
          fontFamily: SERIF,
          fontSize: 15,
          lineHeight: "16px",
          color: "#1a1a1a",
          whiteSpace: "nowrap",
        }}
      >
        <div style={{ paddingLeft: c === 0 ? 6 : 0 }}>{cR[c]}</div>
        <div>{cP[c]}</div>
      </div>
    );
  }
  const letters = [["A", 15], ["B", 189], ["C", 363], ["D", 531]];
  letters.forEach(([l, y]) =>
    texts.push(
      <Txt key={`L${l}`} x={10} y={y} style={{ fontSize: 14, fontWeight: "bold" }}>
        {l}
      </Txt>
    )
  );
  texts.push(
    <Txt key="yk" x={13} y={ROW_TOP[0] + ROW_H[0] / 2} rotate style={{ fontSize: 15, fontWeight: "bold" }}>
      K
    </Txt>
  );
  for (let r = 1; r < 4; r++) {
    texts.push(
      <Txt key={`ya${r}`} x={14} y={ROW_TOP[r] + ROW_H[r] / 2 - 4} rotate>
        <AlphaLabel />
      </Txt>
    );
  }
  return (
    <div style={{ position: "absolute", left: 0, top: 0, width: 800, height: 710, background: "#fff", overflow: "hidden" }}>
      {panels}
      {texts}
    </div>
  );
}
